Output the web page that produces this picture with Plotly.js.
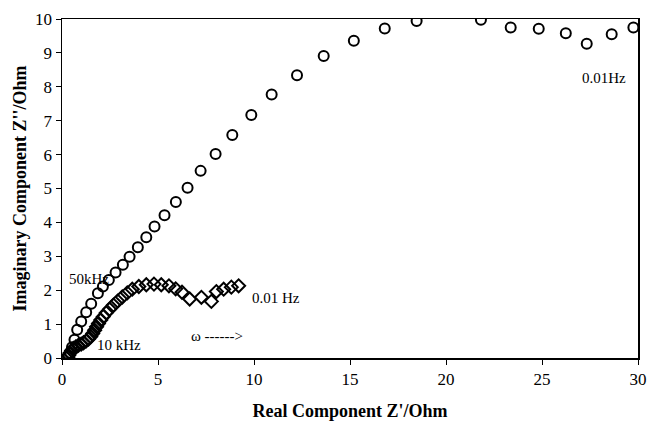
<!DOCTYPE html>
<html>
<head>
<meta charset="utf-8">
<script src="https://cdn.plot.ly/plotly-3.0.1.min.js"></script>
<style>html,body{margin:0;padding:0;background:#fff;}#chart{width:649px;height:421px;}</style>
</head>
<body>
<div id="chart"></div>
<script>
// Series 1 (circles): 50 kHz -> 0.01 Hz
const circleX = [0.33, 0.42, 0.52, 0.65, 0.79, 1.00, 1.26, 1.52, 1.87, 2.13, 2.44, 2.79, 3.17, 3.52, 3.95, 4.39, 4.82, 5.34, 5.93, 6.54, 7.22, 8.00, 8.87, 9.86, 10.92, 12.24, 13.63, 15.20, 16.81, 18.47, 21.82, 23.37, 24.83, 26.24, 27.33, 28.63, 29.76];
const circleY = [0.05, 0.15, 0.32, 0.54, 0.83, 1.08, 1.35, 1.60, 1.91, 2.11, 2.30, 2.52, 2.75, 2.99, 3.27, 3.56, 3.88, 4.21, 4.60, 5.02, 5.52, 6.02, 6.58, 7.17, 7.77, 8.34, 8.91, 9.36, 9.72, 9.94, 9.98, 9.75, 9.71, 9.58, 9.27, 9.55, 9.75];
// Series 2 (diamonds): 10 kHz -> 0.01 Hz
const diamondX = [0.30, 0.35, 0.42, 0.50, 0.60, 0.72, 0.85, 1.00, 1.12, 1.25, 1.38, 1.50, 1.60, 1.70, 1.80, 1.90, 2.02, 2.15, 2.30, 2.48, 2.68, 2.90, 3.14, 3.40, 3.66, 4.00, 4.39, 4.79, 5.17, 5.57, 5.92, 6.25, 6.65, 7.26, 7.78, 8.04, 8.42, 8.82, 9.20];
const diamondY = [0.02, 0.08, 0.15, 0.22, 0.28, 0.33, 0.37, 0.41, 0.45, 0.50, 0.56, 0.63, 0.72, 0.82, 0.92, 1.02, 1.12, 1.22, 1.33, 1.44, 1.56, 1.68, 1.80, 1.92, 2.03, 2.11, 2.16, 2.18, 2.16, 2.13, 2.04, 1.94, 1.74, 1.79, 1.67, 1.96, 2.03, 2.09, 2.13];

const labelText = ['50kHz', '10 kHz', '0.01 Hz', '0.01Hz', 'ω ------>'];
const labelX = [0.25, 1.7, 9.8, 27.0, 6.6];
const labelY = [2.33, 0.38, 1.77, 8.26, 0.65];

const serif = 'Liberation Serif, Times New Roman, serif';

const traces = [
  {x: circleX, y: circleY, mode: 'markers', type: 'scatter',
   marker: {symbol: 'circle-open', size: 10, color: '#000', line: {width: 2, color: '#000'}}},
  {x: diamondX, y: diamondY, mode: 'markers', type: 'scatter',
   marker: {symbol: 'diamond-open', size: 10, color: '#000', line: {width: 2, color: '#000'}}}
];

const layout = {
  width: 649, height: 421,
  margin: {l: 62, r: 11, t: 19, b: 63},
  paper_bgcolor: '#fff', plot_bgcolor: '#fff',
  showlegend: false,
  font: {family: serif, color: '#000', size: 15},
  xaxis: {
    range: [0, 30], tickvals: [0, 5, 10, 15, 20, 25, 30],
    showgrid: false, zeroline: false, showline: true, linecolor: '#000', linewidth: 1.5, mirror: true,
    ticks: 'outside', ticklen: 5, tickcolor: '#000', tickfont: {family: serif, size: 17},
    title: {text: "<b>Real Component Z'/Ohm</b>", font: {family: serif, size: 18}, standoff: 16}
  },
  yaxis: {
    range: [0, 10], tickvals: [0, 1, 2, 3, 4, 5, 6, 7, 8, 9, 10],
    showgrid: false, zeroline: false, showline: true, linecolor: '#000', linewidth: 1.5, mirror: true,
    ticks: 'outside', ticklen: 5, tickcolor: '#000', tickfont: {family: serif, size: 17},
    title: {text: "<b>Imaginary Component Z''/Ohm</b>", font: {family: serif, size: 18}, standoff: 4}
  },
  annotations: labelText.map((t, i) => ({
    text: t, x: labelX[i], y: labelY[i], xref: 'x', yref: 'y', xanchor: 'left', yanchor: 'middle',
    showarrow: false, font: {family: serif, size: 15, color: '#000'}
  }))
};

Plotly.newPlot('chart', traces, layout, {displayModeBar: false, staticPlot: true});
</script>
</body>
</html>
